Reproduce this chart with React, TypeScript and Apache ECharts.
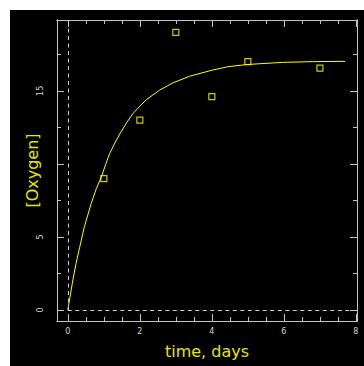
import React, { useEffect, useRef } from "react";
import * as echarts from "echarts";

const obsTime = [1, 2, 3, 4, 5, 7];
const obsOxygen = [9.0, 13.0, 19.0, 14.6, 17.0, 16.55];

const fitTime = [0, 0.14, 0.23, 0.33, 0.46, 0.65, 0.79, 0.93, 1.05, 1.16, 1.32, 1.48, 1.64, 1.81, 2.0, 2.18, 2.55, 2.92, 3.38, 3.98, 4.44, 4.96, 5.42, 5.97, 6.8, 7.7];
const fitOxygen = [0, 2.05, 3.2, 4.3, 5.7, 7.3, 8.3, 9.1, 9.95, 10.7, 11.5, 12.2, 12.85, 13.45, 13.95, 14.4, 15.05, 15.55, 16.0, 16.4, 16.65, 16.8, 16.87, 16.95, 17.0, 17.02];

const xMinorTicks = [0, 0.5, 1, 1.5, 2, 2.5, 3, 3.5, 4, 4.5, 5, 5.5, 6, 6.5, 7, 7.5, 8];
const xMajorTicks = [0, 2, 4, 6, 8];
const xTickLabels = [0, 2, 4, 6, 8];
const yMinorTicks = [0, 2.5, 5, 7.5, 10, 12.5, 15, 17.5];
const yMajorTicks = [0, 5, 10, 15];
const yTickLabels = [0, 5, 15];

const X_MIN = -0.3, X_MAX = 8.03, Y_MIN = -0.75, Y_MAX = 19.85;
const FRAME = "#c4c4c4";
const YEL = "#ffff00";
const TITLE = "#e6e600";

function mkAxis(kind: "x" | "y", position: string, ticks: number[], len: number, labels: number[] | null, extra: any = {}) {
  return {
    type: "value",
    position,
    min: kind === "x" ? X_MIN : Y_MIN,
    max: kind === "x" ? X_MAX : Y_MAX,
    splitLine: { show: false },
    axisLine: { show: true, onZero: false, lineStyle: { color: FRAME, width: 1 } },
    axisTick: { show: true, inside: true, length: len, customValues: ticks, lineStyle: { color: FRAME, width: 1 } },
    axisLabel: labels
      ? {
          show: true,
          customValues: labels,
          color: "#d8d8d8",
          fontSize: 8,
          fontFamily: "DejaVu Sans",
          margin: kind === "x" ? 6 : 13,
          rotate: kind === "y" ? 90 : 0,
        }
      : { show: false },
    ...extra,
  };
}

export default function App() {
  const ref = useRef<HTMLDivElement>(null);
  useEffect(() => {
    if (!ref.current) return;
    const chart = echarts.init(ref.current, null, { renderer: "svg" });
    const fit = fitTime.map((t, i) => [t, fitOxygen[i]]);
    const obs = obsTime.map((t, i) => [t, obsOxygen[i]]);
    chart.setOption({
      animation: false,
      backgroundColor: "#000000",
      grid: { left: 47, top: 10, width: 300, height: 301, containLabel: false, outerBoundsMode: "none" },
      xAxis: [
        mkAxis("x", "bottom", xMinorTicks, 4, xTickLabels, {
          name: "time, days",
          nameLocation: "middle",
          nameGap: 22,
          nameMoveOverlap: false,
          nameTextStyle: { color: TITLE, fontSize: 16, fontFamily: "DejaVu Sans" },
        }),
        mkAxis("x", "bottom", xMajorTicks, 7, null),
        mkAxis("x", "top", xMinorTicks, 4, null),
        mkAxis("x", "top", xMajorTicks, 7, null),
      ],
      yAxis: [
        mkAxis("y", "left", yMinorTicks, 4, yTickLabels, {
          name: "[Oxygen]",
          nameLocation: "middle",
          nameGap: 17,
          nameRotate: 90,
          nameMoveOverlap: false,
          nameTextStyle: { color: TITLE, fontSize: 16, fontFamily: "DejaVu Sans" },
        }),
        mkAxis("y", "left", yMajorTicks, 7, null),
        mkAxis("y", "right", yMinorTicks, 4, null),
        mkAxis("y", "right", yMajorTicks, 7, null),
      ],
      series: [
        {
          type: "line",
          data: fit,
          xAxisIndex: 0,
          yAxisIndex: 0,
          showSymbol: false,
          smooth: false,
          lineStyle: { color: YEL, width: 1 },
          z: 3,
          markLine: {
            silent: true,
            symbol: ["none", "none"],
            label: { show: false },
            lineStyle: { color: "#d0d0d0", width: 1, type: [4, 3.5] },
            data: [
              [{ coord: [0, 0] }, { coord: [0, Y_MAX] }],
              [{ coord: [0, 0] }, { coord: [X_MAX, 0] }],
            ],
          },
        },
        {
          type: "scatter",
          data: obs,
          xAxisIndex: 0,
          yAxisIndex: 0,
          symbol: "rect",
          symbolSize: 6,
          itemStyle: { color: "rgba(0,0,0,0)", borderColor: YEL, borderWidth: 1.2 },
          z: 4,
        },
      ],
    });
    return () => chart.dispose();
  }, []);
  return (
    <div style={{ position: "absolute", left: 0, top: 0, width: 364, height: 366, background: "#ffffff" }}>
      <div ref={ref} style={{ position: "absolute", left: 10, top: 10, width: 354, height: 356 }} />
    </div>
  );
}
